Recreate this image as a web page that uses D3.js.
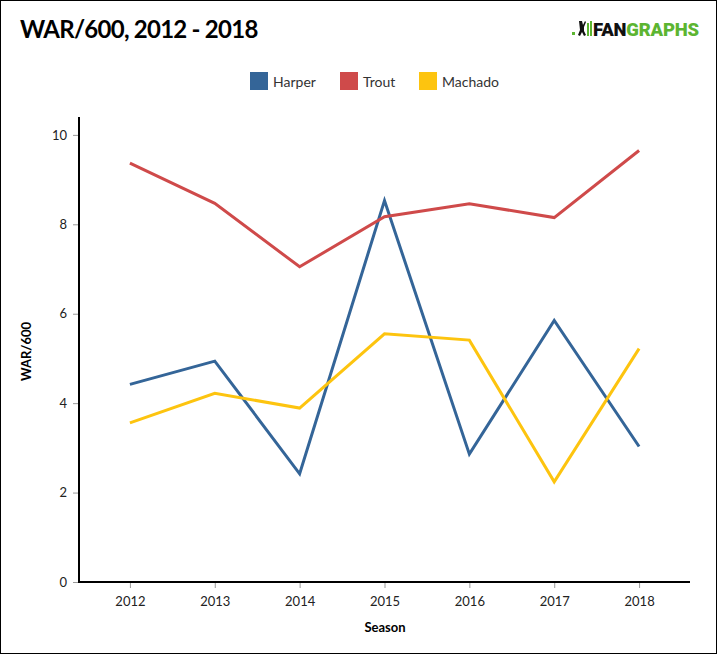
<!DOCTYPE html>
<html><head><meta charset="utf-8">
<script src="https://cdn.jsdelivr.net/npm/d3@7"></script>
<style>
html,body{margin:0;padding:0;background:#fff;}
svg{display:block;font-family:Lato, "Open Sans", sans-serif;}
</style></head>
<body>
<svg id="c" width="717" height="654"></svg>
<script>
const seasons = [2012, 2013, 2014, 2015, 2016, 2017, 2018];
const harper  = [4.42, 4.94, 2.42, 8.53, 2.86, 5.85, 3.03];
const trout   = [9.37, 8.47, 7.05, 8.17, 8.46, 8.15, 9.65];
const machado = [3.56, 4.22, 3.89, 5.55, 5.41, 2.24, 5.22];
const seriesNames = ["Harper", "Trout", "Machado"];
const seriesColors = ["#346598", "#cf4a4a", "#fdc40f"];
const yTicks = [0, 2, 4, 6, 8, 10];

const svg = d3.select("#c");
const W = 717, H = 654;
svg.append("rect").attr("x",0.5).attr("y",0.5).attr("width",W-1).attr("height",H-1)
  .attr("fill","#fff").attr("stroke","#000").attr("stroke-width",1);

svg.append("text").attr("x",20).attr("y",38).attr("font-size",24).attr("font-weight",700)
  .attr("fill","#000").attr("letter-spacing",-0.75).text("WAR/600, 2012 - 2018");

// logo
const logo = svg.append("g");
logo.append("rect").attr("x",572).attr("y",32).attr("width",3).attr("height",3).attr("fill","#5cb531");
logo.append("path").attr("d","M579,21 l3,0 l1,4 l2,-4 l1,1 l-2,5 l0,4 l2,4 l-2,1 l-2,-4 l-2,4 l-2,-1 l2,-5 z").attr("fill","#111");
logo.append("rect").attr("x",587).attr("y",23).attr("width",2).attr("height",13).attr("fill","#5cb531");
logo.append("rect").attr("x",590).attr("y",21).attr("width",2).attr("height",15).attr("fill","#5cb531");
const lt = logo.append("text").attr("x",593).attr("y",36).attr("font-size",18.5).attr("font-weight",900)
  .attr("font-family","Roboto, 'Open Sans', sans-serif").attr("letter-spacing",-0.2)
  .attr("textLength",106).attr("lengthAdjust","spacingAndGlyphs");
lt.append("tspan").attr("fill","#111").text("FAN");
lt.append("tspan").attr("fill","#5cb531").text("GRAPHS");

const m = {left:79, right:690, top:117, bottom:582};
const x = d3.scalePoint().domain(seasons).range([m.left, m.right]).padding(0.6);
const y = d3.scaleLinear().domain([0, 10.4]).range([m.bottom, m.top]);

// axes
const yAxis = svg.append("g").attr("transform",`translate(${m.left},0)`)
  .call(d3.axisLeft(y).tickValues(yTicks).tickSize(6).tickPadding(6));
const xAxis = svg.append("g").attr("transform",`translate(0,${m.bottom})`)
  .call(d3.axisBottom(x).tickSize(6).tickPadding(9).tickFormat(d3.format("d")));
[yAxis, xAxis].forEach(a=>{
  a.select(".domain").remove();
  a.selectAll(".tick line").attr("stroke","#999");
  a.selectAll(".tick text").attr("font-size",13).attr("fill","#222").attr("font-family","Lato, sans-serif");
});
svg.append("line").attr("x1",m.left).attr("x2",m.left).attr("y1",m.top).attr("y2",m.bottom+1)
  .attr("stroke","#000").attr("stroke-width",2);
svg.append("line").attr("x1",m.left-1).attr("x2",m.right).attr("y1",m.bottom).attr("y2",m.bottom)
  .attr("stroke","#000").attr("stroke-width",2);

svg.append("text").attr("transform",`translate(31,${(m.top+m.bottom)/2+2}) rotate(-90)`)
  .attr("text-anchor","middle").attr("font-size",13).attr("font-weight",700).text("WAR/600");
svg.append("text").attr("x",385).attr("y",632).attr("text-anchor","middle")
  .attr("font-size",13).attr("font-weight",700).text("Season");

// lines
const data = [harper, trout, machado];
const line = d3.line().x((d,i)=>x(seasons[i])).y(d=>y(d));
data.forEach((s,i)=>{
  svg.append("path").attr("d",line(s)).attr("fill","none").attr("stroke",seriesColors[i])
    .attr("stroke-width",3).attr("stroke-linejoin","miter");
});

// legend
const leg = svg.append("g");
const legPos = [250, 340, 419];
seriesNames.forEach((n,i)=>{
  const g = leg.append("g").attr("transform",`translate(${legPos[i]},72)`);
  g.append("rect").attr("width",18).attr("height",18).attr("fill",seriesColors[i]);
  g.append("text").attr("x",23).attr("y",14.5).attr("font-size",14).attr("fill","#333").text(n);
});
</script>
</body></html>
